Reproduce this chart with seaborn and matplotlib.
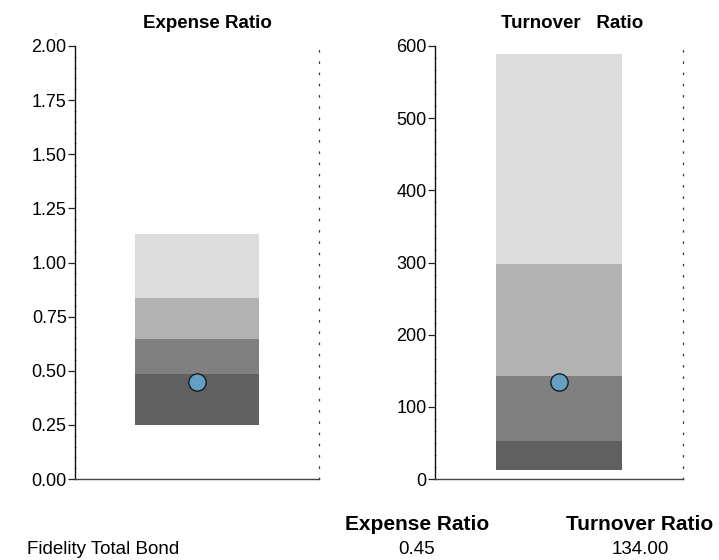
"""
Fund ratio bands: expense ratio and turnover ratio of one fund
against the peer-group quartile bands.
"""
import matplotlib
matplotlib.use("Agg")
import matplotlib.pyplot as plt
from matplotlib.ticker import AutoMinorLocator
import pandas as pd
import seaborn as sns

sns.set_style("white")
plt.rcParams['font.family'] = ['Liberation Sans', 'DejaVu Sans']
plt.rcParams['text.color'] = "black"
plt.rcParams['ytick.labelcolor'] = "black"

fund_name = "Fidelity Total Bond"
metrics = ["Expense Ratio", "Turnover Ratio"]
panel_titles = ["Expense Ratio", "Turnover   Ratio"]

# band edges (bottom -> top)
expense_edges = [0.25, 0.485, 0.645, 0.835, 1.13]
turnover_edges = [12, 52, 143, 298, 589]
fund_values = [0.45, 134.00]

band_colors = ["#606060", "#808080", "#b2b2b2", "#dcdcdc"]
point_color = "#64a0c6"

y_limits = [(0, 2.0), (0, 600)]
y_ticks = [[0, 0.25, 0.5, 0.75, 1.0, 1.25, 1.5, 1.75, 2.0],
           [0, 100, 200, 300, 400, 500, 600]]
tick_fmt = ["{:.2f}", "{:.0f}"]
minor_div = [5, 6]

fig = plt.figure(figsize=(7.19, 5.60), dpi=100)
positions = [[75 / 719, 81 / 560, 244 / 719, 433 / 560],
             [435 / 719, 81 / 560, 248 / 719, 433 / 560]]
title_x = [207 / 719, 572 / 719]

for i, edges in enumerate([expense_edges, turnover_edges]):
    ax = fig.add_axes(positions[i])
    bands = pd.DataFrame({
        "bottom": edges[:-1],
        "height": [b - a for a, b in zip(edges[:-1], edges[1:])],
        "color": band_colors,
    })
    for _, row in bands.iterrows():
        ax.bar(0, row["height"], bottom=row["bottom"], width=1.02,
               color=row["color"], edgecolor="none", zorder=1)
    pt = pd.DataFrame({"x": [0], "y": [fund_values[i]]})
    sns.scatterplot(data=pt, x="x", y="y", ax=ax, s=155, color=point_color,
                    edgecolor="#111111", linewidth=0.9, zorder=3)

    ax.set_xlim(-1, 1)
    ax.set_ylim(*y_limits[i])
    ax.set_yticks(y_ticks[i])
    ax.set_yticklabels([tick_fmt[i].format(t) for t in y_ticks[i]])
    ax.yaxis.set_minor_locator(AutoMinorLocator(minor_div[i]))
    ax.set_xticks([])
    ax.set_xlabel("")
    ax.set_ylabel("")
    ax.tick_params(axis="y", which="major", direction="out", length=5,
                   width=0.9, color="#222222", labelsize=13, pad=1, left=True)
    ax.tick_params(axis="y", which="minor", direction="inout", length=2,
                   width=0.5, color="#666666", left=True)

    ax.spines["top"].set_visible(False)
    ax.spines["left"].set_color("#111111")
    ax.spines["left"].set_linewidth(1.0)
    ax.spines["bottom"].set_color("#444444")
    ax.spines["bottom"].set_linewidth(1.0)
    ax.spines["right"].set_linestyle((0, (1, 8)))
    ax.spines["right"].set_color("#333333")
    ax.spines["right"].set_linewidth(0.9)

    fig.text(title_x[i], 1 - 24 / 560, panel_titles[i], ha="center",
             va="center", fontsize=13.5, fontweight="bold")

# small table under the panels
col_x = [417 / 719, 640 / 719]
for x, name, val in zip(col_x, metrics, fund_values):
    fig.text(x, 1 - 525 / 560, name, ha="center", va="center",
             fontsize=15, fontweight="bold")
    fig.text(x, 1 - 549 / 560, f"{val:.2f}", ha="center", va="center",
             fontsize=13.5)
fig.text(27 / 719, 1 - 549 / 560, fund_name, ha="left", va="center",
         fontsize=13.5)

fig.savefig("out.png", dpi=100)
